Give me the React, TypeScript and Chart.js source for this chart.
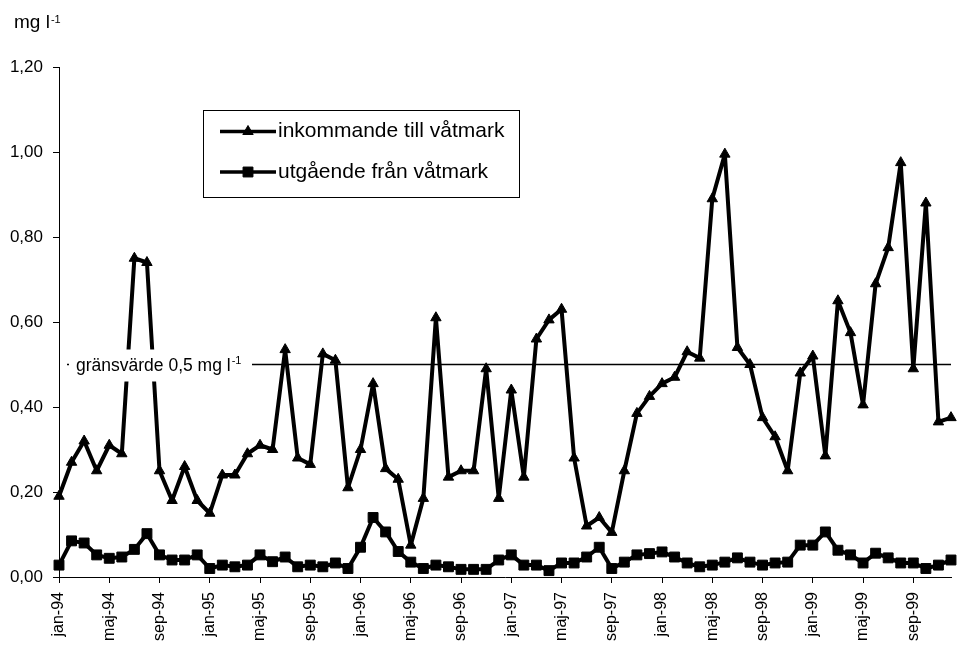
import React, { useEffect, useRef } from 'react';
import { Chart, registerables } from 'chart.js';

Chart.register(...registerables);

const MONTHS = ['jan', 'feb', 'mar', 'apr', 'maj', 'jun', 'jul', 'aug', 'sep', 'okt', 'nov', 'dec'];
const YEARS = ['94', '95', '96', '97', '98', '99'];
const categories = YEARS.flatMap((y) => MONTHS.map((m) => `${m}-${y}`));

const seriesNames = ['inkommande till våtmark', 'utgående från våtmark'];

const inkommande = [
  0.19, 0.27, 0.32, 0.25, 0.31, 0.29, 0.75, 0.74, 0.25, 0.18, 0.26, 0.18,
  0.15, 0.24, 0.24, 0.29, 0.31, 0.30, 0.535, 0.28, 0.265, 0.525, 0.51, 0.21,
  0.30, 0.455, 0.255, 0.23, 0.075, 0.185, 0.61, 0.235, 0.25, 0.25, 0.49, 0.185,
  0.44, 0.235, 0.56, 0.605, 0.63, 0.28, 0.12, 0.14, 0.105, 0.25, 0.385, 0.425,
  0.455, 0.47, 0.53, 0.515, 0.89, 0.995, 0.54, 0.50, 0.375, 0.33, 0.25, 0.48,
  0.52, 0.285, 0.65, 0.575, 0.405, 0.69, 0.775, 0.975, 0.49, 0.88, 0.365, 0.375,
];

const utgaende = [
  0.028, 0.085, 0.08, 0.052, 0.044, 0.047, 0.065, 0.102, 0.052, 0.04, 0.04, 0.052,
  0.02, 0.028, 0.024, 0.028, 0.052, 0.036, 0.047, 0.024, 0.028, 0.024, 0.033, 0.02,
  0.07, 0.14, 0.106, 0.06, 0.035, 0.02, 0.028, 0.024, 0.018, 0.018, 0.018, 0.04,
  0.052, 0.028, 0.028, 0.015, 0.033, 0.033, 0.047, 0.07, 0.02, 0.035, 0.052, 0.055,
  0.059, 0.047, 0.033, 0.024, 0.028, 0.035, 0.045, 0.035, 0.028, 0.033, 0.035, 0.075,
  0.075, 0.106, 0.063, 0.052, 0.033, 0.056, 0.045, 0.033, 0.033, 0.02, 0.028, 0.04,
];

const yMin = 0;
const yMax = 1.2;
const yStep = 0.2;
const xLabelEvery = 4;

const limitValue = 0.5;
const limitText = 'gränsvärde 0,5 mg l';
const unitText = 'mg l';
const supText = '-1';

const FONT = '"Liberation Sans", Arial, sans-serif';

const overlayPlugin = {
  id: 'overlay',
  afterDatasetsDraw(chart: any) {
    const { ctx, chartArea, scales } = chart;
    const y = scales.y.getPixelForValue(limitValue);
    ctx.save();
    ctx.strokeStyle = '#000';
    ctx.lineWidth = 1.5;
    ctx.beginPath();
    ctx.moveTo(chartArea.left + 8, y);
    ctx.lineTo(chartArea.right, y);
    ctx.stroke();
    ctx.fillStyle = '#fff';
    ctx.fillRect(chartArea.left + 10, y - 15, 183, 32);
    ctx.fillStyle = '#000';
    ctx.font = `17.5px ${FONT}`;
    ctx.textBaseline = 'alphabetic';
    ctx.textAlign = 'left';
    const tx = chartArea.left + 17;
    ctx.fillText(limitText, tx, y + 6);
    const w = ctx.measureText(limitText).width;
    ctx.font = `11px ${FONT}`;
    ctx.fillText(supText, tx + w + 1, y - 1);
    ctx.restore();
  },
  afterDraw(chart: any) {
    const { ctx } = chart;
    ctx.save();
    ctx.fillStyle = '#000';
    ctx.textAlign = 'left';
    ctx.textBaseline = 'alphabetic';
    ctx.font = `19px ${FONT}`;
    ctx.fillText(unitText, 14, 28);
    const uw = ctx.measureText(unitText).width;
    ctx.font = `11px ${FONT}`;
    ctx.fillText(supText, 14 + uw + 1, 23);

    const bx = 203.5, by = 110.5, bw = 316, bh = 87;
    ctx.strokeStyle = '#000';
    ctx.lineWidth = 1;
    ctx.strokeRect(bx, by, bw, bh);
    const rows = [131.5, 172];
    chart.data.datasets.forEach((ds: any, i: number) => {
      const ly = rows[i];
      ctx.strokeStyle = ds.borderColor;
      ctx.lineWidth = 3.5;
      ctx.beginPath();
      ctx.moveTo(220, ly);
      ctx.lineTo(276, ly);
      ctx.stroke();
      ctx.fillStyle = ds.backgroundColor;
      const cx = 248;
      const r = ds.pointRadius;
      ctx.beginPath();
      if (ds.pointStyle === 'triangle') {
        let a = 0;
        ctx.moveTo(cx + Math.sin(a) * r, ly - Math.cos(a) * r);
        a += (2 * Math.PI) / 3;
        ctx.lineTo(cx + Math.sin(a) * r, ly - Math.cos(a) * r);
        a += (2 * Math.PI) / 3;
        ctx.lineTo(cx + Math.sin(a) * r, ly - Math.cos(a) * r);
        ctx.closePath();
      } else {
        const s = r * Math.SQRT1_2;
        ctx.rect(cx - s, ly - s, 2 * s, 2 * s);
      }
      ctx.fill();
      ctx.lineWidth = 1;
      ctx.stroke();
      ctx.fillStyle = '#000';
      ctx.font = `21px ${FONT}`;
      ctx.textBaseline = 'middle';
      ctx.fillText(ds.label, 278, ly);
    });
    ctx.restore();
  },
};

export default function App() {
  const canvasRef = useRef<HTMLCanvasElement | null>(null);

  useEffect(() => {
    if (!canvasRef.current) return;
    const chart = new Chart(canvasRef.current, {
      type: 'line',
      data: {
        labels: categories,
        datasets: [
          {
            label: seriesNames[0],
            data: inkommande,
            borderColor: '#000',
            backgroundColor: '#000',
            borderWidth: 4,
            borderJoinStyle: 'round',
            pointStyle: 'triangle',
            pointRadius: 6,
            pointBorderWidth: 1,
            tension: 0,
            clip: false,
          },
          {
            label: seriesNames[1],
            data: utgaende,
            borderColor: '#000',
            backgroundColor: '#000',
            borderWidth: 4,
            borderJoinStyle: 'round',
            pointStyle: 'rect',
            pointRadius: 7,
            pointBorderWidth: 1,
            tension: 0,
            clip: false,
          },
        ],
      },
      options: {
        responsive: true,
        maintainAspectRatio: false,
        animation: false,
        events: [],
        layout: { padding: { top: 67, right: 6, left: 0, bottom: 0 } },
        plugins: {
          legend: { display: false },
          tooltip: { enabled: false },
          title: { display: false },
        },
        scales: {
          x: {
            type: 'category',
            offset: false,
            grid: {
              display: true,
              drawOnChartArea: false,
              drawTicks: true,
              tickLength: 6,
              color: '#000',
            },
            border: { display: true, color: '#000', width: 1 },
            ticks: {
              autoSkip: false,
              minRotation: 90,
              maxRotation: 90,
              padding: 9,
              color: '#000',
              font: { family: FONT, size: 16 },
              callback: (_v: any, i: number) => (i % xLabelEvery === 0 ? categories[i] : null),
            },
            afterFit: (scale: any) => {
              scale.height = 69;
              scale.paddingLeft = 0;
              scale.paddingRight = 0;
            },
          },
          y: {
            min: yMin,
            max: yMax,
            grid: {
              display: true,
              drawOnChartArea: false,
              drawTicks: true,
              tickLength: 6,
              color: '#000',
            },
            border: { display: true, color: '#000', width: 1 },
            ticks: {
              stepSize: yStep,
              padding: 10,
              color: '#000',
              font: { family: FONT, size: 17 },
              callback: (v: any) => Number(v).toFixed(2).replace('.', ','),
            },
            afterFit: (scale: any) => {
              scale.width = 59;
              scale.paddingTop = 0;
              scale.paddingBottom = 0;
            },
          },
        },
      },
      plugins: [overlayPlugin],
    });
    return () => chart.destroy();
  }, []);

  return (
    <div style={{ position: 'fixed', left: 0, top: 0, width: 959, height: 646, background: '#fff' }}>
      <canvas ref={canvasRef} />
    </div>
  );
}
